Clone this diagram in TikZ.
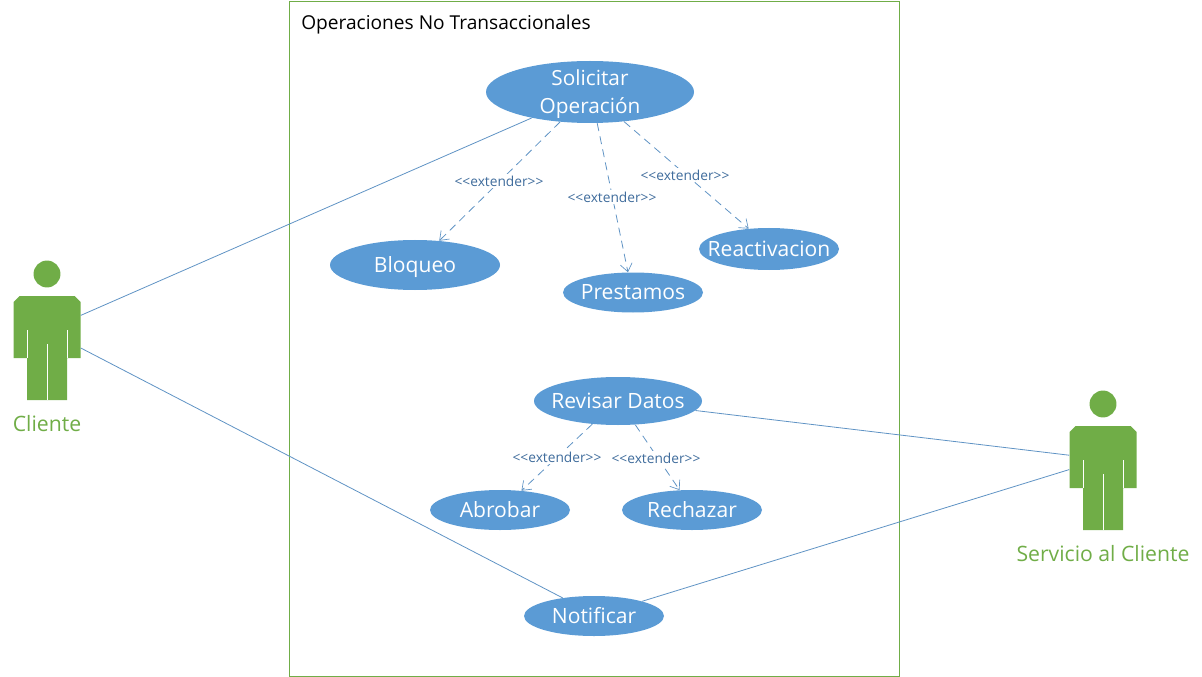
\documentclass[tikz,border=0pt]{standalone}
\usepackage{fontspec}
\setmainfont{Open Sans}
\usetikzlibrary{arrows.meta,shapes.geometric}
\definecolor{actgreen}{HTML}{70AD47}
\definecolor{ucblue}{HTML}{5B9BD5}
\definecolor{linkblue}{HTML}{5F93C4}
\definecolor{lblblue}{HTML}{3F6C9C}
\newcommand{\pxfont}[1]{\fontsize{#1}{#1}\selectfont}
\newcommand{\uctext}[1]{\smash{\raisebox{-5.4pt}{\makebox[0pt]{#1}}}}
\tikzset{
  x=0.75pt,y=-0.75pt,
  usecase/.style={ellipse,fill=ucblue,text=white,inner sep=0pt,font=\pxfont{15.8}},
  caselabel/.style={text=white,inner sep=0pt,font=\pxfont{15.6}},
  assoc/.style={draw=linkblue,line width=0.6pt},
  ext/.style={draw=linkblue,line width=0.6pt,dash pattern=on 6pt off 4pt,-{Straight Barb[length=6pt,width=9pt,line width=0.5pt]}},
  extlabel/.style={fill=white,text=lblblue,inner sep=1pt,font=\pxfont{10.3}},
  actorbody/.style={rectangle,minimum width=50.25pt,minimum height=78pt,inner sep=0pt},
  actorname/.style={text=actgreen,font=\pxfont{15.9},inner sep=0pt},
  framebox/.style={draw=actgreen,line width=0.6pt},
  gap/.style={draw=white,line width=0.7pt},
  actorfill/.style={fill=actgreen,draw=none}
}
\newcommand{\actorfig}[2]{%
  \begin{scope}[shift={(#1,#2)}]
    \fill[actorfill] (0,-74) circle[radius=10.1pt];
    \fill[actorfill] (-33.5,-46) -- (-27.5,-52) -- (27.5,-52) -- (33.5,-46) -- (33.5,10) -- (20,10) -- (20,52) -- (-20,52) -- (-20,10) -- (-33.5,10) -- cycle;
    \draw[gap] (-20,-18) -- (-20,10);
    \draw[gap] (20,-18) -- (20,10);
    \draw[gap] (0,-4) -- (0,52);
  \end{scope}}
\begin{document}
\begin{tikzpicture}
\useasboundingbox (0,0) rectangle (1202,677);
\node[framebox,rectangle,minimum width=457.5pt,minimum height=506.25pt,inner sep=0pt] (frame) at (594.5,338.5) {};
\node[anchor=west,inner sep=0pt,font=\pxfont{14.35}] (title) at (301,24.5) {Operaciones No Transaccionales};

\actorfig{47}{348}
\actorfig{1103}{478}
\node[actorbody] (cliente) at (47,348) {};
\node[actorbody] (servicio) at (1103,478) {};
\node[actorname] (clientename) at (47,424) {Cliente};
\node[actorname] (servicioname) at (1103,554) {Servicio al Cliente};

\node[usecase,minimum width=156pt,minimum height=46.5pt] (solicitar) at (590,92) {};
\node[caselabel] (solicitar1) at (590,78) {Solicitar};
\node[caselabel] (solicitar2) at (590,108) {Operación};
\node[usecase,minimum width=127.5pt,minimum height=37.5pt] (bloqueo) at (415,265) {\uctext{Bloqueo}};
\node[usecase,minimum width=105pt,minimum height=30pt] (prestamos) at (633,292.5) {\uctext{Prestamos}};
\node[usecase,minimum width=105pt,minimum height=31.5pt] (reactivacion) at (769,249) {\uctext{Reactivacion}};
\node[usecase,minimum width=126pt,minimum height=36pt] (revisar) at (618,401) {\uctext{Revisar Datos}};
\node[usecase,minimum width=105pt,minimum height=30pt] (abrobar) at (500,510) {\uctext{Abrobar}};
\node[usecase,minimum width=105pt,minimum height=30pt] (rechazar) at (692,510) {\uctext{Rechazar}};
\node[usecase,minimum width=105pt,minimum height=30pt] (notificar) at (594,616) {\uctext{Notificar}};

\draw[assoc] (cliente.44) -- (solicitar.204);
\draw[assoc] (cliente.east) -- (notificar.150.6);
\draw[assoc] (revisar.353) -- (servicio.146);
\draw[assoc] (notificar.17) -- (servicio.166);

\draw[ext] (solicitar.225) -- (bloqueo.45);
\draw[ext] (solicitar.283) -- (prestamos.104);
\draw[ext] (solicitar.319) -- (reactivacion.135);
\draw[ext] (revisar.222.5) -- (abrobar.42);
\draw[ext] (revisar.306) -- (rechazar.122);

\node[extlabel] (l1) at (499,181) {<{}<extender>{}>};
\node[extlabel] (l2) at (612,197) {<{}<extender>{}>};
\node[extlabel] (l3) at (685,175) {<{}<extender>{}>};
\node[extlabel] (l4) at (557,457) {<{}<extender>{}>};
\node[extlabel] (l5) at (656,458) {<{}<extender>{}>};
\end{tikzpicture}
\end{document}
